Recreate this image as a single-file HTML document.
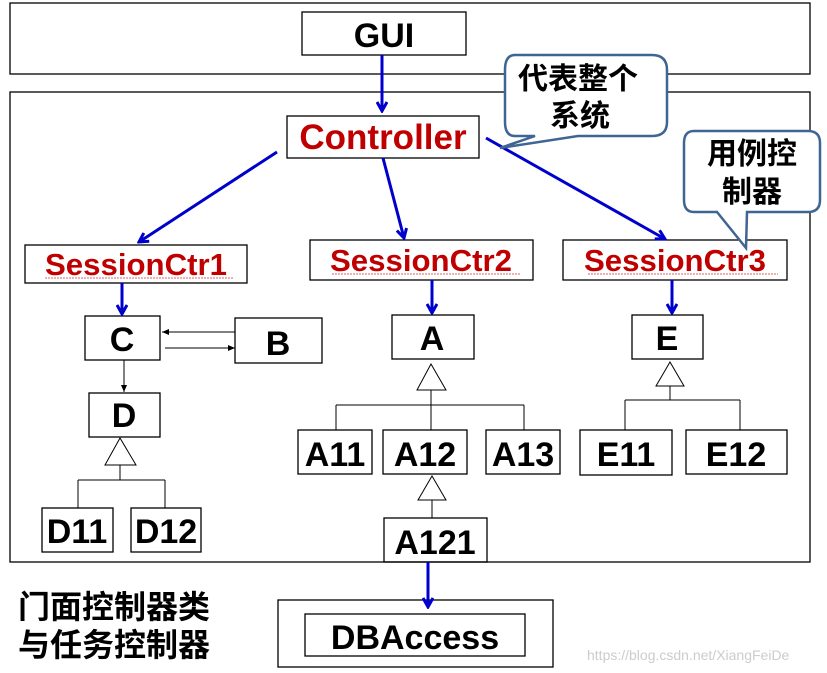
<!DOCTYPE html>
<html><head><meta charset="utf-8"><style>
body{margin:0;background:#fff}
svg{display:block}
.t{font-family:"Liberation Sans",Arial,sans-serif;font-weight:bold}
.c{font-family:"Liberation Sans","Noto Sans CJK SC",sans-serif;font-weight:bold}
</style></head><body>
<svg width="827" height="673" viewBox="0 0 827 673" xmlns="http://www.w3.org/2000/svg">
<defs>
<marker id="ab" markerWidth="12" markerHeight="12" refX="10" refY="6" orient="auto" markerUnits="userSpaceOnUse"><path d="M1,1 L10,6 L1,11" fill="none" stroke="#0000cc" stroke-width="3"/></marker>
<marker id="ak" markerWidth="8" markerHeight="8" refX="7" refY="4" orient="auto" markerUnits="userSpaceOnUse"><path d="M0,1 L7,4 L0,7z" fill="#000"/></marker>
</defs>
<g fill="none" stroke="#000" stroke-width="1.3">
<rect x="10" y="3" width="800" height="71"/>
<rect x="10" y="92" width="800" height="470"/>
<rect x="302" y="12" width="164" height="43"/>
<rect x="287" y="116" width="192" height="42"/>
<rect x="25" y="245" width="222" height="38"/>
<rect x="310" y="240" width="223" height="40"/>
<rect x="563" y="240" width="224" height="40"/>
<rect x="85" y="316" width="75" height="44"/>
<rect x="235" y="318" width="87" height="45"/>
<rect x="89" y="393" width="71" height="44"/>
<rect x="42" y="508" width="71" height="44"/>
<rect x="131" y="508" width="70" height="44"/>
<rect x="392" y="315" width="82" height="44"/>
<rect x="298" y="430" width="74" height="44"/>
<rect x="383" y="430" width="84" height="44"/>
<rect x="486" y="430" width="74" height="44"/>
<rect x="384" y="518" width="103" height="44"/>
<rect x="632" y="315" width="71" height="44"/>
<rect x="580" y="430" width="92" height="45"/>
<rect x="686" y="430" width="101" height="44"/>
<rect x="278" y="600" width="275" height="67"/>
<rect x="305" y="614" width="220" height="42"/>
</g>
<g fill="none" stroke="#000" stroke-width="1">
<path d="M120,438 L105,465 L136,465z M120,465 V480 M78,480 H165 M78,480 V508 M165,480 V508"/>
<path d="M431,364 L417,390 L446,390z M431,390 V430 M336,405 H524 M336,405 V430 M524,405 V430"/>
<path d="M432,476 L418,500 L446,500z M432,500 V518"/>
<path d="M670,362 L656,386 L684,386z M670,386 V400 M625,400 H740 M625,400 V430 M740,400 V430"/>
<path d="M235,332 H162" marker-end="url(#ak)"/>
<path d="M165,348 H235" marker-end="url(#ak)"/>
<path d="M124,360 V392" marker-end="url(#ak)"/>
</g>
<g stroke="#0000cc" stroke-width="3" fill="none">
<path d="M382,55 V111" marker-end="url(#ab)"/>
<path d="M277,152 L139,242" marker-end="url(#ab)"/>
<path d="M383,158 L404,238" marker-end="url(#ab)"/>
<path d="M486,138 L665,239" marker-end="url(#ab)"/>
<path d="M122,283 V314" marker-end="url(#ab)"/>
<path d="M432,280 V313" marker-end="url(#ab)"/>
<path d="M672,280 V313" marker-end="url(#ab)"/>
<path d="M428,562 V607" marker-end="url(#ab)"/>
</g>
<g fill="#fff" stroke="#3f6592" stroke-width="2.5">
<path d="M515,55 H652 Q667,55 667,70 V122 Q667,136 652,136 H578 L500,148 L535,136 H515 Q505,136 505,122 V70 Q505,55 515,55z"/>
<path d="M694,131 H808 Q820,131 820,143 V200 Q820,212 808,212 H747 L746,248 L717,212 H694 Q684,212 684,200 V143 Q684,131 694,131z"/>
</g>
<g class="t" text-anchor="middle" font-size="34">
<text x="384" y="47">GUI</text>
<text x="383" y="149" fill="#c00000" font-size="35">Controller</text>
<text x="136" y="275" fill="#c00000" font-size="31" textLength="182" lengthAdjust="spacingAndGlyphs">SessionCtr1</text>
<text x="421" y="271" fill="#c00000" font-size="31" textLength="182" lengthAdjust="spacingAndGlyphs">SessionCtr2</text>
<text x="675" y="271" fill="#c00000" font-size="31" textLength="182" lengthAdjust="spacingAndGlyphs">SessionCtr3</text>
<text x="122" y="351">C</text>
<text x="278" y="355">B</text>
<text x="124" y="427">D</text>
<text x="77" y="543">D11</text>
<text x="166" y="543">D12</text>
<text x="432" y="350">A</text>
<text x="335" y="466">A11</text>
<text x="425" y="466">A12</text>
<text x="523" y="466">A13</text>
<text x="435" y="554">A121</text>
<text x="667" y="350">E</text>
<text x="626" y="466">E11</text>
<text x="736" y="466">E12</text>
<text x="415" y="649">DBAccess</text>
</g>
<g stroke="#e06060" stroke-width="1" fill="none" stroke-dasharray="2,1">
<path d="M45,278 H234 M332,274 H520 M588,274 H778"/>
</g>
<g class="c" text-anchor="middle" font-size="30">
<text x="578" y="89">代表整个</text>
<text x="580" y="126">系统</text>
<text x="752" y="164">用例控</text>
<text x="752" y="202">制器</text>
</g>
<g class="c" font-size="32">
<text x="18" y="618">门面控制器类</text>
<text x="18" y="656">与任务控制器</text>
</g>
<text x="587" y="660" font-family="Liberation Sans,sans-serif" font-size="14" fill="#ccc">https://blog.csdn.net/XiangFeiDe</text>
</svg>
</body></html>
